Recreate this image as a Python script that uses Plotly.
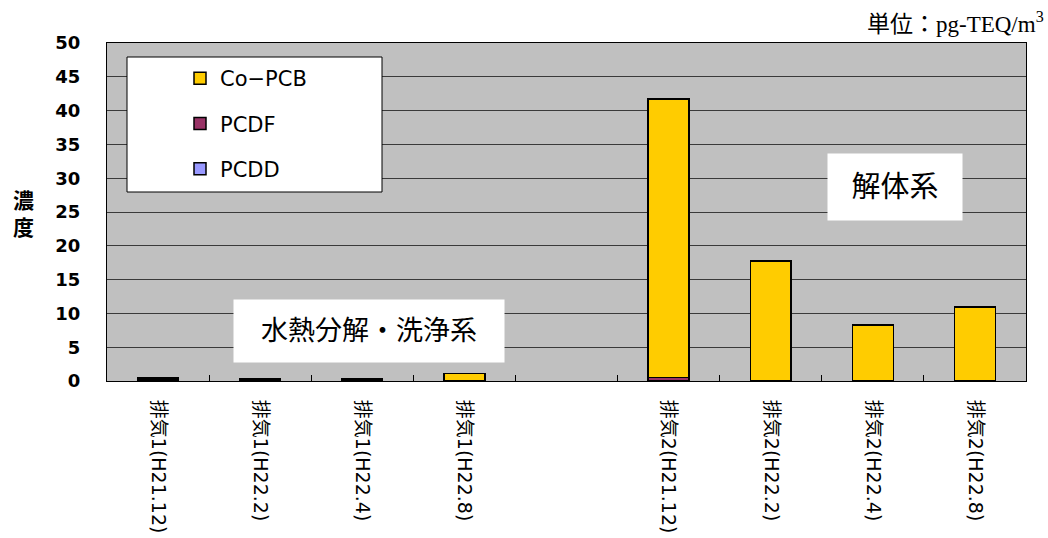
import plotly.graph_objects as go

# Sampling points (the blank slot separates the two process groups)
categories = ["排気1(H21.12)", "排気1(H22.2)", "排気1(H22.4)", "排気1(H22.8)", " ",
              "排気2(H21.12)", "排気2(H22.2)", "排気2(H22.4)", "排気2(H22.8)"]

# Concentration in pg-TEQ/m3 by congener group
pcdd = [0.10, 0.05, 0.03, 0.03, None, 0.10, 0.02, 0.02, 0.02]
pcdf = [0.20, 0.08, 0.05, 0.08, None, 0.45, 0.05, 0.03, 0.03]
co_pcb = [0.25, 0.15, 0.20, 1.00, None, 41.20, 17.70, 8.20, 10.90]

y_ticks = [0, 5, 10, 15, 20, 25, 30, 35, 40, 45, 50]

# Stacked bottom to top; legend lists them top to bottom
series = [
    ("PCDD", pcdd, "#9999FF"),
    ("PCDF", pcdf, "#993366"),
    ("Co−PCB", co_pcb, "#FFCC00"),
]

SANS = "DejaVu Sans, Noto Sans CJK JP, sans-serif"
SERIF = "Liberation Serif, Noto Sans CJK JP, serif"

PW, PH, L, B = 919, 338, 107, 381  # plot area size and origin in pixels


def px(x):
    return (x - L) / PW


def py(y):
    return (B - y) / PH


fig = go.Figure()
for i, (name, vals, color) in enumerate(series):
    fig.add_trace(go.Bar(
        x=categories, y=vals, name=name, legendgroup=name,
        legendrank=1000 - i,
        marker=dict(color=color, line=dict(color="black", width=1.5)),
        width=0.4,
    ))

fig.update_layout(
    width=1048, height=538,
    margin=dict(l=107, r=22, t=43, b=157),
    barmode="stack",
    paper_bgcolor="white",
    plot_bgcolor="#C0C0C0",
    showlegend=True,
    legend=dict(
        x=px(180), y=py(58), xanchor="left", yanchor="top",
        bgcolor="rgba(0,0,0,0)", borderwidth=0,
        traceorder="grouped", tracegroupgap=15,
        font=dict(family=SANS, size=21, color="black"),
    ),
    xaxis=dict(
        type="category", automargin=False,
        categoryorder="array", categoryarray=categories,
        tickson="boundaries", ticks="inside", ticklen=6, tickcolor="black",
        tickangle=90,
        tickfont=dict(family=SANS, size=19, color="black"),
        ticklabelstandoff=14,
        showline=True, linecolor="black", linewidth=1, mirror=True,
        showgrid=False,
    ),
    yaxis=dict(
        range=[0, 50], tickvals=y_ticks, automargin=False,
        tickfont=dict(family=SANS, size=18, color="black", weight="bold"),
        ticks="", ticklabelstandoff=22,
        showline=True, linecolor="black", linewidth=1, mirror=True,
        showgrid=True, gridcolor="#3a3a3a", gridwidth=1,
        zeroline=False,
    ),
    font=dict(family=SANS, color="black"),
)

# Legend frame
fig.add_shape(type="rect", xref="paper", yref="paper",
              x0=px(127), x1=px(382), y0=py(192), y1=py(57),
              fillcolor="white", line=dict(color="black", width=1), layer="above")

# Group labels
fig.add_annotation(xref="paper", yref="paper",
                   x=px(368.5), y=py(330.5), xanchor="center", yanchor="middle",
                   text="水熱分解・洗浄系", showarrow=False,
                   width=268, height=60, bgcolor="white",
                   font=dict(family=SERIF, size=27, color="black"))
fig.add_annotation(xref="paper", yref="paper",
                   x=px(894.5), y=py(186.5), xanchor="center", yanchor="middle",
                   text="解体系", showarrow=False,
                   width=132, height=64, bgcolor="white",
                   font=dict(family=SERIF, size=29, color="black"))

# Axis title, stacked characters
fig.add_annotation(xref="paper", yref="paper",
                   x=px(23), y=py(214), xanchor="center", yanchor="middle",
                   text="<b>濃</b><br><b>度</b>", showarrow=False,
                   font=dict(family=SANS, size=21, color="black"))

# Unit
fig.add_annotation(xref="paper", yref="paper",
                   x=px(1046), y=py(22), xanchor="right", yanchor="middle",
                   text="単位：pg-TEQ/m<sup>3</sup>", showarrow=False,
                   font=dict(family=SERIF, size=23, color="black"))

fig.write_html("out.html")
